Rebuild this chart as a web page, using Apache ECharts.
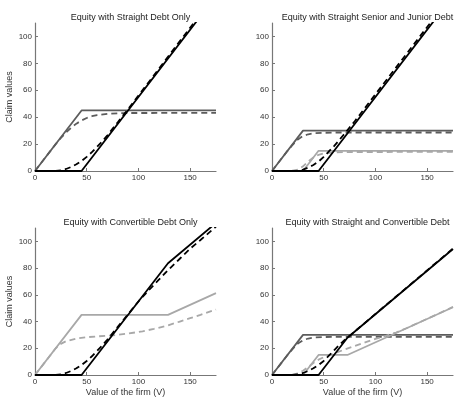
<!DOCTYPE html>
<html>
<head>
<meta charset="utf-8">
<script src="https://cdn.jsdelivr.net/npm/echarts@6/dist/echarts.min.js"></script>
<style>
  html, body { margin: 0; padding: 0; background: #fff; }
  #chart { width: 458px; height: 401px; }
</style>
</head>
<body>
<div id="chart"></div>
<script>
// panel titles
var titles = ['Equity with Straight Debt Only', 'Equity with Straight Senior and Junior Debt',
  'Equity with Convertible Debt Only', 'Equity with Straight and Convertible Debt'];
var xTicks = [0, 50, 100, 150];
var yTicks = [0, 20, 40, 60, 80, 100];

// panel 1: straight debt only
var p1DebtPayX = [0, 45, 175];
var p1DebtPayY = [0, 45, 45];
var p1DebtValX = [0, 20, 25, 30, 35, 40, 45, 50, 55, 60, 70, 80, 90, 175];
var p1DebtValY = [0, 20, 24.6, 28.6, 32.2, 35.2, 37.6, 39.4, 40.7, 41.6, 42.5, 42.9, 43.1, 43.2];
var p1EqPayX = [0, 45, 175];
var p1EqPayY = [0, 0, 130];
var p1EqValX = [0, 20, 25, 30, 35, 40, 45, 50, 55, 60, 65, 70, 80, 90, 100, 175];
var p1EqValY = [0, 0, 0.5, 1.5, 3, 5, 7.5, 10.5, 14, 18, 22, 26.5, 36.2, 46, 56, 131.8];

// panel 2: senior + junior straight debt
var p2SenPayX = [0, 30, 175];
var p2SenPayY = [0, 30, 30];
var p2SenValX = [0, 15, 20, 25, 30, 35, 40, 50, 60, 175];
var p2SenValY = [0, 15, 19.5, 23.5, 26, 27.3, 28, 28.4, 28.6, 28.6];
var p2JunPayX = [0, 30, 45, 175];
var p2JunPayY = [0, 0, 15, 15];
var p2JunValX = [0, 15, 20, 25, 30, 35, 40, 45, 50, 60, 70, 175];
var p2JunValY = [0, 0, 0.2, 1, 3.5, 7, 10, 12, 13, 13.8, 14.1, 14.2];
var p2EqPayX = [0, 45, 175];
var p2EqPayY = [0, 0, 130];
var p2EqValX = [0, 25, 30, 35, 40, 45, 50, 55, 60, 65, 70, 80, 90, 100, 175];
var p2EqValY = [0, 0, 1, 2.5, 4.5, 7, 10.5, 14.5, 18.5, 23, 27.5, 37, 47, 57, 132];

// panel 3: convertible debt only
var p3ConvPayX = [0, 45, 128.6, 175];
var p3ConvPayY = [0, 45, 45, 61.25];
var p3ConvValX = [0, 15, 20, 25, 30, 40, 50, 60, 75, 90, 104, 115, 128, 140, 150, 160, 175];
var p3ConvValY = [0, 15, 20, 23.3, 25.3, 27.3, 28.3, 28.9, 29.7, 31, 32.7, 34.5, 37, 40, 42.5, 45, 49];
var p3EqPayX = [0, 45, 128.6, 175];
var p3EqPayY = [0, 0, 83.6, 113.8];
var p3EqValX = [0, 20, 25, 30, 35, 40, 45, 50, 55, 60, 65, 70, 80, 90, 100, 110, 120, 128, 140, 150, 160, 175];
var p3EqValY = [0, 0, 0.5, 1.5, 3, 5, 7.5, 10.5, 14, 18, 22, 26.5, 36, 45.5, 55, 63.5, 71.5, 78, 87, 94.5, 101, 111];

// panel 4: straight senior + convertible junior
var p4SenPayX = [0, 30, 175];
var p4SenPayY = [0, 30, 30];
var p4SenValX = [0, 15, 20, 25, 30, 35, 40, 50, 60, 175];
var p4SenValY = [0, 15, 19.5, 23.5, 26, 27.3, 28, 28.4, 28.6, 28.6];
var p4ConvPayX = [0, 30, 45, 72.9, 175];
var p4ConvPayY = [0, 0, 15, 15, 50.7];
var p4ConvValX = [0, 15, 20, 25, 30, 35, 40, 45, 50, 55, 60, 70, 80, 90, 100, 110, 120, 130, 140, 150, 160, 175];
var p4ConvValY = [0, 0, 0.3, 1.2, 3.2, 6, 9, 11.5, 13.3, 14.8, 16.2, 19, 21.7, 24.4, 27, 29.3, 31.8, 35, 38.5, 42, 45.5, 51];
var p4EqPayX = [0, 45, 72.9, 175];
var p4EqPayY = [0, 0, 27.9, 94.3];
var p4EqValX = [0, 20, 25, 30, 35, 40, 45, 50, 55, 60, 65, 70, 75, 80, 175];
var p4EqValY = [0, 0, 0.5, 1.5, 3, 5, 7.5, 10.5, 14.5, 18.5, 22.5, 26, 29.3, 32.6, 94.6];

var BLACK = '#000';
var DARK = '#5c5c5c';
var LIGHT = '#a8a8a8';
var FONT = 'Liberation Sans, Arial, sans-serif';

function pairs(xs, ys) {
  return xs.map(function (x, i) { return [x, ys[i]]; });
}
function line(idx, xs, ys, color, dashed) {
  return {
    type: 'line',
    xAxisIndex: idx,
    yAxisIndex: idx,
    data: pairs(xs, ys),
    showSymbol: false,
    clip: true,
    silent: true,
    lineStyle: { color: color, width: 1.8, type: dashed ? [6, 4] : 'solid' },
    animation: false
  };
}

var grids = [
  { left: 35, top: 23, width: 181, height: 148 },
  { left: 272, top: 23, width: 181, height: 148 },
  { left: 35, top: 228, width: 181, height: 147 },
  { left: 272, top: 228, width: 181, height: 147 }
];

var xAxes = grids.map(function (g, i) {
  return {
    type: 'value', gridIndex: i, min: 0, max: 175, interval: 50,
    name: i >= 2 ? 'Value of the firm (V)' : '',
    nameLocation: 'middle', nameGap: 13,
    nameTextStyle: { fontSize: 9, color: '#333', fontFamily: FONT },
    axisLine: { lineStyle: { color: '#777', width: 1.2 } },
    axisTick: { inside: true, length: 3, lineStyle: { color: '#777' } },
    axisLabel: { fontSize: 8, color: '#333', margin: 3, fontFamily: FONT, showMaxLabel: false,
      formatter: function (v) { return xTicks.indexOf(v) >= 0 ? String(v) : ''; } },
    splitLine: { show: false }
  };
});
var yAxes = grids.map(function (g, i) {
  return {
    type: 'value', gridIndex: i, min: 0, max: 110, interval: 20,
    name: i % 2 === 0 ? 'Claim values' : '',
    nameLocation: 'middle', nameGap: 21,
    nameTextStyle: { fontSize: 9, color: '#333', fontFamily: FONT },
    axisLine: { show: true, lineStyle: { color: '#777', width: 1.2 } },
    axisTick: { show: true, inside: true, length: 3, lineStyle: { color: '#777' } },
    axisLabel: { fontSize: 8, color: '#333', margin: 3, fontFamily: FONT, showMaxLabel: false,
      formatter: function (v) { return yTicks.indexOf(v) >= 0 ? String(v) : ''; } },
    splitLine: { show: false }
  };
});

var titleCenters = [[125.5, 8], [362.5, 8], [125.5, 213], [362.5, 213]];

var option = {
  animation: false,
  title: titles.map(function (t, i) {
    return {
      text: t, left: titleCenters[i][0], top: titleCenters[i][1], textAlign: 'center',
      textStyle: { fontSize: 9, fontWeight: 'normal', color: '#222', fontFamily: FONT }
    };
  }),
  grid: grids,
  xAxis: xAxes,
  yAxis: yAxes,
  series: [
    line(0, p1DebtPayX, p1DebtPayY, DARK, false),
    line(0, p1DebtValX, p1DebtValY, DARK, true),
    line(0, p1EqPayX, p1EqPayY, BLACK, false),
    line(0, p1EqValX, p1EqValY, BLACK, true),

    line(1, p2SenPayX, p2SenPayY, DARK, false),
    line(1, p2SenValX, p2SenValY, DARK, true),
    line(1, p2JunPayX, p2JunPayY, LIGHT, false),
    line(1, p2JunValX, p2JunValY, LIGHT, true),
    line(1, p2EqPayX, p2EqPayY, BLACK, false),
    line(1, p2EqValX, p2EqValY, BLACK, true),

    line(2, p3ConvPayX, p3ConvPayY, LIGHT, false),
    line(2, p3ConvValX, p3ConvValY, LIGHT, true),
    line(2, p3EqPayX, p3EqPayY, BLACK, false),
    line(2, p3EqValX, p3EqValY, BLACK, true),

    line(3, p4SenPayX, p4SenPayY, DARK, false),
    line(3, p4SenValX, p4SenValY, DARK, true),
    line(3, p4ConvPayX, p4ConvPayY, LIGHT, false),
    line(3, p4ConvValX, p4ConvValY, LIGHT, true),
    line(3, p4EqPayX, p4EqPayY, BLACK, false),
    line(3, p4EqValX, p4EqValY, BLACK, true)
  ]
};

var myChart = echarts.init(document.getElementById('chart'));
myChart.setOption(option);
window.addEventListener('resize', function () {
  myChart.resize();
});
</script>
</body>
</html>
